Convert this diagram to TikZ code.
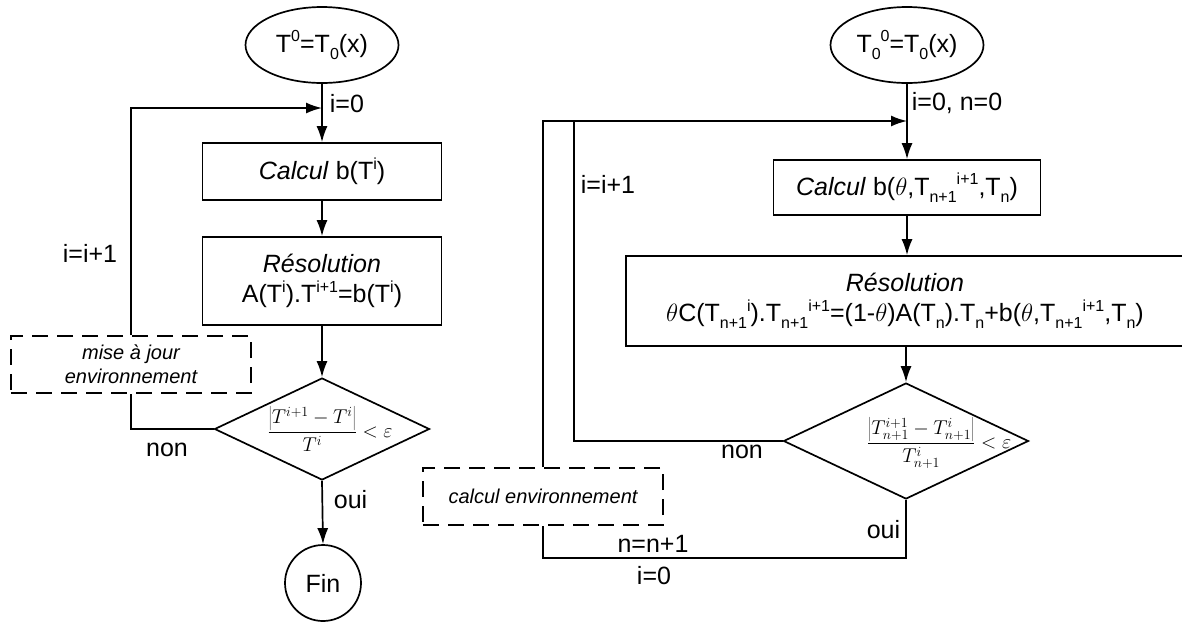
\documentclass[tikz,border=0pt]{standalone}
\usepackage{fix-cm}
\usepackage{fontspec}
\setmainfont{Liberation Sans}
\usetikzlibrary{shapes.geometric,arrows.meta}
\newcommand\sps[1]{\raisebox{0.42em}{\fontsize{16}{16}\selectfont #1}}
\newcommand\sbs[1]{\raisebox{-0.28em}{\fontsize{16}{16}\selectfont #1}}
\begin{document}
\begin{tikzpicture}[x=1pt,y=-1pt,line width=1.7pt,
  every node/.style={font=\fontsize{25}{30}\selectfont,inner sep=0pt},
  box/.style={draw,rectangle,align=center},
  dbox/.style={draw,rectangle,dash pattern=on 16pt off 9pt,align=center,font=\fontsize{20}{24}\selectfont\itshape},
  dia/.style={draw,diamond},
  term/.style={draw,ellipse},
  arr/.style={-{Latex[length=16pt,width=11pt]}},
  mth/.style={font=\fontsize{20}{24}\selectfont}]
\useasboundingbox (0,0) rectangle (1182,622);
% ---------- left flowchart ----------
\node[term,minimum width=153pt,minimum height=76pt] (e1) at (322,45) {T\sps{0}=T\sbs{0}(x)};
\coordinate (j1) at (322,108);
\node[box,minimum width=239pt,minimum height=57pt] (b1) at (322,171.5) {\textit{Calcul} b(T\sps{i})};
\node[box,minimum width=239pt,minimum height=88pt] (b2) at (322,281) {\textit{Résolution}\\A(T\sps{i}).T\sps{i+1}=b(T\sps{i})};
\node[dia,minimum width=215pt,minimum height=102pt] (d1) at (322,429) {};
\node[mth] (f1) at (330,429) {$\displaystyle\frac{\left|T^{i+1}-T^{i}\right|}{T^{i}}<\varepsilon$};
\node[draw,circle,minimum size=76pt] (fin) at (323,583) {Fin};
\node[dbox,minimum width=240pt,minimum height=57pt] (mj) at (131,364.5) {mise à jour\\environnement};
\node[anchor=west] (l1) at (329,104) {i=0};
\node (l2) at (90,253) {i=i+1};
\node (l3) at (167,450) {non};
\node[anchor=west] (l4) at (333,500) {oui};
\draw[arr] (e1.south) -- (b1.north);
\draw[arr] (b1.south) -- (b2.north);
\draw[arr] (b2.south) -- (d1.north);
\draw[arr] (d1.south) -- (fin.north);
\draw (d1.west) -| (mj.south);
\draw[arr] (mj.north) |- (j1);
% ---------- right flowchart ----------
\node[term,minimum width=153pt,minimum height=76pt] (e2) at (907,45) {T\sbs{0}\sps{0}=T\sbs{0}(x)};
\coordinate (j2) at (907,121);
\node[box,minimum width=267pt,minimum height=55pt] (c1) at (907,187.5) {\textit{Calcul} b($\theta$,T\sbs{n+1}\sps{i+1},T\sbs{n})};
\node[box,minimum width=558pt,minimum height=90pt] (r1) at (905,301) {\textit{Résolution}\\$\theta$C(T\sbs{n+1}\sps{i}).T\sbs{n+1}\sps{i+1}=(1-$\theta$)A(T\sbs{n}).T\sbs{n}+b($\theta$,T\sbs{n+1}\sps{i+1},T\sbs{n})};
\node[dia,minimum width=245pt,minimum height=116pt] (d2) at (906,441) {};
\node[mth] (f2) at (939,443) {$\displaystyle\frac{\left|T^{i+1}_{n+1}-T^{i}_{n+1}\right|}{T^{i}_{n+1}}<\varepsilon$};
\node[dbox,minimum width=240pt,minimum height=57pt] (ce) at (543,496.5) {calcul environnement};
\coordinate (k1) at (574,121);
\coordinate (k2) at (543,558);
\node[anchor=west] (l5) at (911,103) {i=0, n=0};
\node[anchor=west] (l6) at (580,184) {i=i+1};
\node (l7) at (742,452) {non};
\node[anchor=east] (l8) at (901,530) {oui};
\node (l9) at (653,544) {n=n+1};
\node (l10) at (654,576) {i=0};
\draw[arr] (e2.south) -- (c1.north);
\draw[arr] (c1.south) -- (c1.south |- r1.north);
\draw[arr] (r1.south -| d2.north) -- (d2.north);
\draw (d2.west) -| (k1);
\draw[arr] (ce.north) |- (j2);
\draw (d2.south) |- (k2) -- (ce.south);
\end{tikzpicture}
\end{document}
